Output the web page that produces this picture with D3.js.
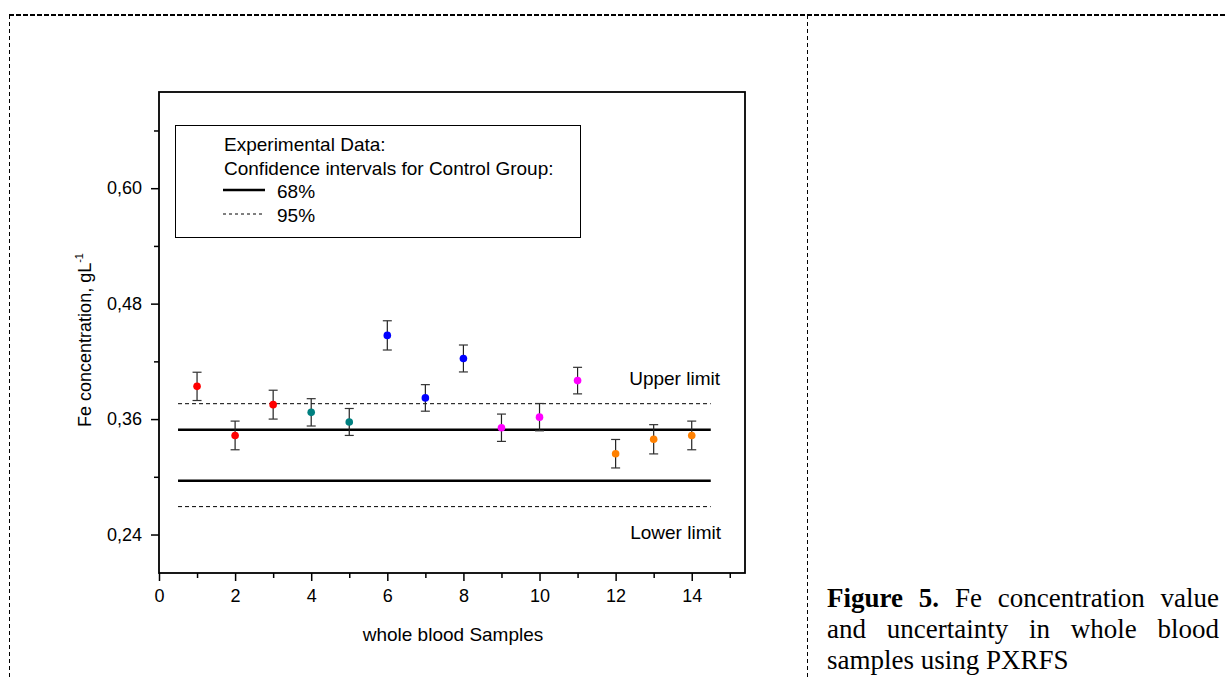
<!DOCTYPE html>
<html lang="en">
<head>
<meta charset="utf-8">
<title>Fe concentration in whole blood samples</title>
<script src="https://cdn.jsdelivr.net/npm/d3@7"></script>
<style>
  body { margin: 0; width: 1225px; height: 677px; overflow: hidden; background: #fff; position: relative; }
  svg { position: absolute; left: 0; top: 0; }
  .axis text { font-family: "Liberation Sans", Arial, sans-serif; font-size: 18px; fill: #000; }
  .axis line, .axis path { stroke: #000; stroke-width: 1.5; }
  .lbl { font-family: "Liberation Sans", Arial, sans-serif; font-size: 19px; fill: #000; }
  #caption {
    position: absolute; left: 827px; top: 583px; width: 392px;
    font-family: "Liberation Serif", "Times New Roman", serif; font-size: 27px; line-height: 31px;
    text-align: justify; color: #000;
  }
</style>
</head>
<body>
<div id="caption"><b>Figure 5.</b> Fe concentration value and uncertainty in whole blood samples using PXRFS</div>
<script>
// samples and measured Fe (g/L) with uncertainty
var samples  = [1, 2, 3, 4, 5, 6, 7, 8, 9, 10, 11, 12, 13, 14];
var feValues = [0.394, 0.343, 0.375, 0.367, 0.357, 0.447, 0.382, 0.423, 0.351, 0.362, 0.400, 0.324, 0.339, 0.343];
var feErrors = [0.0147, 0.0149, 0.0150, 0.0142, 0.0140, 0.0152, 0.0138, 0.0140, 0.0142, 0.0142, 0.0138, 0.0148, 0.0152, 0.0149];
var pointColors = ["#ff0000", "#ff0000", "#ff0000", "#008080", "#008080", "#0000ff", "#0000ff", "#0000ff",
                   "#ff00ff", "#ff00ff", "#ff00ff", "#ff8000", "#ff8000", "#ff8000"];

// control group confidence intervals
var ci68 = [0.349, 0.296];
var ci95 = [0.376, 0.269];
var ciRange = [0.5, 14.5];

// ticks
var xTicks = [0, 2, 4, 6, 8, 10, 12, 14];
var xMinor = [1, 3, 5, 7, 9, 11, 13, 15];
var yTicks = [0.24, 0.36, 0.48, 0.60];
var yTickLabels = ["0,24", "0,36", "0,48", "0,60"];
var yMinor = [0.30, 0.42, 0.54, 0.66];

var W = 1225, H = 677;
var pLeft = 159, pRight = 745, pTop = 92, pBottom = 573;

var svg = d3.select("body").append("svg").attr("width", W).attr("height", H);

// page layout borders (dashed)
svg.append("line").attr("x1", 9).attr("x2", W).attr("y1", 15).attr("y2", 15)
  .attr("stroke", "#000").attr("stroke-width", 2).attr("stroke-dasharray", "5 2");
svg.append("line").attr("x1", 9.5).attr("x2", 9.5).attr("y1", 15).attr("y2", H)
  .attr("stroke", "#000").attr("stroke-width", 1).attr("stroke-dasharray", "4 3");
svg.append("line").attr("x1", 807.5).attr("x2", 807.5).attr("y1", 15).attr("y2", H)
  .attr("stroke", "#000").attr("stroke-width", 1).attr("stroke-dasharray", "4 3");

var x = d3.scaleLinear().domain([0, 15.4]).range([pLeft, pRight]);
var y = d3.scaleLinear().domain([0.20, 0.70]).range([pBottom, pTop]);

// axes
svg.append("g").attr("class", "axis").attr("transform", "translate(0," + pBottom + ")")
  .call(d3.axisBottom(x).tickValues(xTicks).tickSize(8).tickSizeOuter(0).tickPadding(8).tickFormat(d3.format("d")));
svg.append("g").attr("class", "axis").attr("transform", "translate(0," + pBottom + ")")
  .call(d3.axisBottom(x).tickValues(xMinor).tickSize(5).tickSizeOuter(0).tickFormat(""));
svg.append("g").attr("class", "axis").attr("transform", "translate(" + pLeft + ",0)")
  .call(d3.axisLeft(y).tickValues(yTicks).tickSize(8).tickSizeOuter(0).tickPadding(9)
    .tickFormat(function(d, i) { return yTickLabels[i]; }));
svg.append("g").attr("class", "axis").attr("transform", "translate(" + pLeft + ",0)")
  .call(d3.axisLeft(y).tickValues(yMinor).tickSize(5).tickSizeOuter(0).tickFormat(""));
svg.selectAll(".axis .domain").remove();

// frame
svg.append("rect").attr("x", pLeft).attr("y", pTop).attr("width", pRight - pLeft).attr("height", pBottom - pTop)
  .attr("fill", "none").attr("stroke", "#000").attr("stroke-width", 1.8);

// axis titles
svg.append("text").attr("class", "lbl").attr("x", 453).attr("y", 641)
  .attr("text-anchor", "middle").text("whole blood Samples");
var yt = svg.append("text").attr("class", "lbl").attr("text-anchor", "middle")
  .attr("transform", "translate(91,340) rotate(-90)").style("font-size", "18px");
yt.append("tspan").text("Fe concentration, gL");
yt.append("tspan").attr("dy", -8).style("font-size", "11px").text("-1");

// confidence lines
ci68.forEach(function(v) {
  svg.append("line").attr("x1", x(ciRange[0])).attr("x2", x(ciRange[1])).attr("y1", y(v)).attr("y2", y(v))
    .attr("stroke", "#000").attr("stroke-width", 2.5);
});
ci95.forEach(function(v) {
  svg.append("line").attr("x1", x(ciRange[0])).attr("x2", x(ciRange[1])).attr("y1", y(v)).attr("y2", y(v))
    .attr("stroke", "#000").attr("stroke-width", 1).attr("stroke-dasharray", "4 3");
});

svg.append("text").attr("class", "lbl").attr("x", 720).attr("y", 385).attr("text-anchor", "end").text("Upper limit");
svg.append("text").attr("class", "lbl").attr("x", 721).attr("y", 539).attr("text-anchor", "end").text("Lower limit");

// error bars
var eb = svg.selectAll(".eb").data(samples).enter().append("g").attr("class", "eb");
eb.append("line")
  .attr("x1", function(d) { return x(d); }).attr("x2", function(d) { return x(d); })
  .attr("y1", function(d, i) { return y(feValues[i] + feErrors[i]); })
  .attr("y2", function(d, i) { return y(feValues[i] - feErrors[i]); })
  .attr("stroke", "#222").attr("stroke-width", 1.2);
eb.append("line")
  .attr("x1", function(d) { return x(d) - 4.5; }).attr("x2", function(d) { return x(d) + 4.5; })
  .attr("y1", function(d, i) { return y(feValues[i] + feErrors[i]); })
  .attr("y2", function(d, i) { return y(feValues[i] + feErrors[i]); })
  .attr("stroke", "#333").attr("stroke-width", 1.2);
eb.append("line")
  .attr("x1", function(d) { return x(d) - 4.5; }).attr("x2", function(d) { return x(d) + 4.5; })
  .attr("y1", function(d, i) { return y(feValues[i] - feErrors[i]); })
  .attr("y2", function(d, i) { return y(feValues[i] - feErrors[i]); })
  .attr("stroke", "#333").attr("stroke-width", 1.2);

svg.selectAll(".pt").data(samples).enter().append("circle").attr("class", "pt")
  .attr("cx", function(d) { return x(d); })
  .attr("cy", function(d, i) { return y(feValues[i]); })
  .attr("r", 3.8)
  .attr("fill", function(d, i) { return pointColors[i]; });

// legend
var lg = svg.append("g");
lg.append("rect").attr("x", 175.5).attr("y", 125.5).attr("width", 405).attr("height", 112)
  .attr("fill", "#fff").attr("stroke", "#000").attr("stroke-width", 1);
lg.append("text").attr("class", "lbl").attr("x", 224).attr("y", 151).text("Experimental Data:");
lg.append("text").attr("class", "lbl").attr("x", 224).attr("y", 174.5).text("Confidence intervals for Control Group:");
lg.append("line").attr("x1", 223).attr("x2", 265).attr("y1", 190).attr("y2", 190)
  .attr("stroke", "#000").attr("stroke-width", 2.5);
lg.append("text").attr("class", "lbl").attr("x", 277).attr("y", 198).text("68%");
lg.append("line").attr("x1", 223).attr("x2", 265).attr("y1", 214).attr("y2", 214)
  .attr("stroke", "#000").attr("stroke-width", 1).attr("stroke-dasharray", "3 3");
lg.append("text").attr("class", "lbl").attr("x", 277).attr("y", 221.5).text("95%");
</script>
</body>
</html>
